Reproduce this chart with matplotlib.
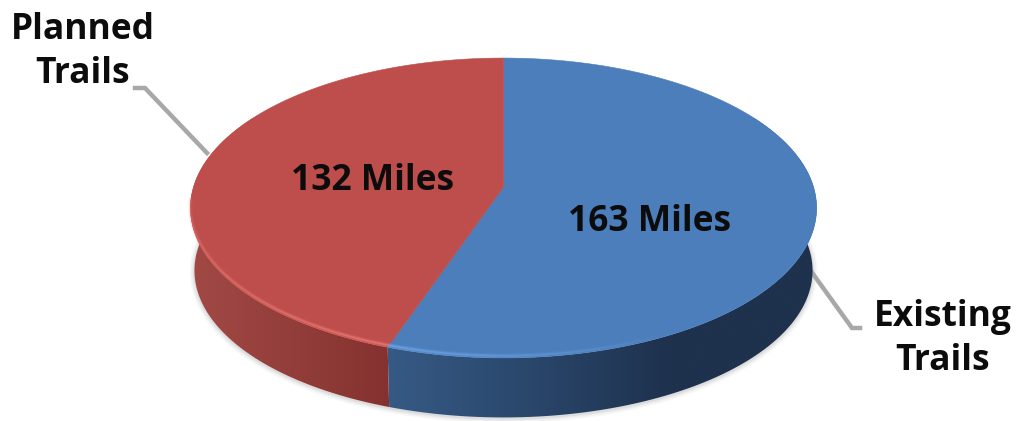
import numpy as np
import matplotlib
matplotlib.use("Agg")
import matplotlib.pyplot as plt
from matplotlib.patches import Polygon
from matplotlib.colors import LinearSegmentedColormap

categories = ["Existing\nTrails", "Planned\nTrails"]
values = [163, 132]
value_labels = ["163 Miles", "132 Miles"]

plt.rcParams['font.family'] = ['Open Sans', 'DejaVu Sans']
BLUE, RED = "#4c7ebb", "#bd4e4b"
TXT = "#0c0c0c"
GRAY = "#a8a8a8"

fig = plt.figure(figsize=(10.18, 4.21), dpi=100)
ax = fig.add_axes([0, 0, 1, 1])
ax.set_xlim(0, 1018)
ax.set_ylim(421, 0)
ax.axis("off")

k = -0.14


def proj(theta_deg, cx, cy, rx, ry):
    """Clockwise angle from the top of the disc to picture coordinates."""
    t = np.radians(theta_deg)
    u, v = np.sin(t), -np.cos(t)
    d = 1 + k * v
    return cx + rx * u / d, cy + ry * v / d


TOP = dict(cx=503.5, cy=187, rx=310, ry=147)
BOT = dict(cx=503.5, cy=250, rx=306, ry=144)

split = 360 * values[0] / sum(values)

# soft shadow under the pie
for grow, alpha in [(7, 0.05), (5, 0.06), (3, 0.08), (1.5, 0.10)]:
    x, y = proj(np.linspace(60, 300, 200), **BOT)
    ax.plot(x, y + 1, color="#808080", lw=grow, alpha=alpha, zorder=1,
            solid_capstyle="round")


def side(t0, t1, colors, x0, x1):
    th = np.linspace(t0, t1, 200)
    xt, yt = proj(th, **TOP)
    xb, yb = proj(th, **BOT)
    pts = np.r_[np.c_[xt, yt], np.c_[xb, yb][::-1]]
    cmap = LinearSegmentedColormap.from_list("s", colors)
    im = ax.imshow(np.linspace(0, 1, 256)[None, :], cmap=cmap, aspect="auto",
                   extent=(x0, x1, 421, 0), zorder=2, interpolation="bilinear")
    poly = Polygon(pts, closed=True, fc="none", ec="none", transform=ax.transData)
    ax.add_patch(poly)
    im.set_clip_path(poly)


side(60, split, ["#375b86", "#2a476c", "#1e314d", "#1e314d"], 380, 820)
side(split, 300, ["#84312f", "#933e3b", "#a24945"], 392, 188)
ax.set_xlim(0, 1018)
ax.set_ylim(421, 0)

# top faces
for t0, t1, c in [(0, split, BLUE), (split, 360, RED)]:
    x, y = proj(np.linspace(t0, t1, 300), **TOP)
    ax.add_patch(Polygon(np.c_[np.r_[TOP["cx"], x], np.r_[TOP["cy"], y]],
                         closed=True, fc=c, ec=c, lw=0.4, zorder=3))


# bevel highlight along the front rim
def rim(t0, t1, color, a0, a1):
    th = np.linspace(t0, t1, 70)
    x, y = proj(th, **TOP)
    for i in range(len(th) - 1):
        f = i / (len(th) - 2)
        a = a0 + (a1 - a0) * f
        for lw, m in [(3.4, 0.25), (2.0, 0.40), (1.0, 0.6)]:
            ax.plot(x[i:i + 2], y[i:i + 2] - 2.2, color=color, lw=lw,
                    alpha=a * m, zorder=4, solid_capstyle="butt")


rim(split, 265, "#f07a76", 0.9, 0.3)
rim(split, 150, "#72a9ea", 0.9, 0.0)

# leader lines
ax.plot([135, 145, 207], [88, 88, 153], color=GRAY, lw=3.2, zorder=1,
        solid_joinstyle="miter")
ax.plot([808, 852, 860], [267, 328, 328], color=GRAY, lw=3.2, zorder=1,
        solid_joinstyle="miter")

# labels
FS = 25.5
ax.text(943, 339, categories[0], ha="center", va="center", fontsize=FS,
        fontweight="bold", color=TXT, linespacing=1.33, zorder=6)
ax.text(83, 52, categories[1], ha="center", va="center", fontsize=FS,
        fontweight="bold", color=TXT, linespacing=1.33, zorder=6)
ax.text(650, 222, value_labels[0], ha="center", va="center", fontsize=FS,
        fontweight="bold", color=TXT, zorder=6)
ax.text(373, 181, value_labels[1], ha="center", va="center", fontsize=FS,
        fontweight="bold", color=TXT, zorder=6)

fig.savefig("out.png", dpi=100, facecolor="white")
